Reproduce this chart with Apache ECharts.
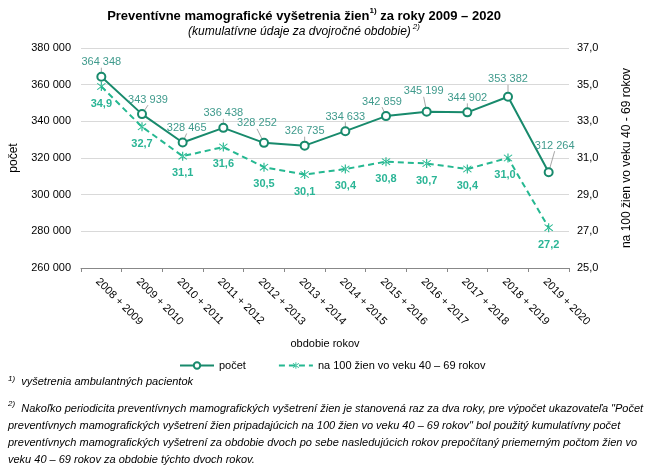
<!DOCTYPE html>
<html><head><meta charset="utf-8">
<script src="https://cdn.jsdelivr.net/npm/echarts@6/dist/echarts.min.js"></script>
<style>html,body{margin:0;padding:0;background:#fff}#c{width:650px;height:470px}</style>
</head><body><div id="c"></div>
<script>
const categories = ['2008 + 2009','2009 + 2010','2010 + 2011','2011 + 2012','2012 + 2013','2013 + 2014','2014 + 2015','2015 + 2016','2016 + 2017','2017 + 2018','2018 + 2019','2019 + 2020'];
const countValues = [364348, 343939, 328465, 336438, 328252, 326735, 334633, 342859, 345199, 344902, 353382, 312264];
const rateValues = [34.9, 32.7, 31.1, 31.6, 30.5, 30.1, 30.4, 30.8, 30.7, 30.4, 31.0, 27.2];
const leftTicks = [260000, 280000, 300000, 320000, 340000, 360000, 380000];
const rightTicks = [25, 27, 29, 31, 33, 35, 37];

// label layout tweaks (pixels), separate from data
const countLabelShift = [[0,0],[6,0],[4,0],[0,0],[-7,-5],[0,0],[0,0],[-4,0],[-3,-6],[0,0],[0,-3],[6,-12]];
const rateLabelShift = [[0,0],[0,0],[0,0],[0,0],[0,0],[0,0],[0,0],[0,0],[0,0],[0,0],[-3,0],[0,0]];

const FONT = 'Liberation Sans, Arial, sans-serif';
const cDark = '#188a6c';
const cLight = '#25b891';
const asterisk = 'path://M9,0h2v20h-2z M2.2,3.6l1.4-1.4l14.2,14.2l-1.4,1.4z M17.8,3.6l-1.4-1.4l-14.2,14.2l1.4,1.4z';

const fmtThousands = v => String(v).replace(/\B(?=(\d{3})+(?!\d))/g, ' ');
const fmtDec = v => v.toFixed(1).replace('.', ',');

const chart = echarts.init(document.getElementById('c'));
chart.setOption({
  animation: false,
  textStyle: {fontFamily: FONT},
  title: {
    left: 299, top: 2, textAlign: 'center',
    text: '{b|Preventívne mamografické vyšetrenia žien}{s|1)}{b| za roky 2009 – 2020}',
    subtext: '{i|(kumulatívne údaje za dvojročné obdobie)}{s|2)}',
    itemGap: 0,
    textStyle: {rich: {
      b: {fontFamily: FONT, fontWeight: 'bold', fontSize: 13, color: '#000', verticalAlign: 'bottom', lineHeight: 16},
      s: {fontFamily: FONT, fontWeight: 'bold', fontSize: 8, color: '#000', verticalAlign: 'top', lineHeight: 16, padding: [0,0,6,0]}
    }},
    subtextStyle: {rich: {
      i: {fontFamily: FONT, fontStyle: 'italic', fontSize: 12, color: '#000', verticalAlign: 'bottom', lineHeight: 15},
      s: {fontFamily: FONT, fontStyle: 'italic', fontSize: 8, color: '#000', verticalAlign: 'top', lineHeight: 15, padding: [0,0,6,2]}
    }}
  },
  grid: {left: 80, right: 81, top: 48, bottom: 202},
  legend: {
    top: 355, left: 174, itemWidth: 34, itemHeight: 8, itemGap: 32,
    textStyle: {fontSize: 11, color: '#000', fontFamily: FONT},
    data: ['počet', 'na 100 žien vo veku 40 – 69 rokov']
  },
  xAxis: {
    type: 'category', data: categories,
    name: 'obdobie rokov', nameLocation: 'middle', nameGap: 70,
    nameTextStyle: {fontSize: 11, color: '#000'},
    axisLine: {lineStyle: {color: '#888', width: 1}},
    axisTick: {show: true, alignWithLabel: false, length: 4, lineStyle: {color: '#888'}},
    axisLabel: {rotate: -45, fontSize: 11, color: '#000', margin: 8, interval: 0, align: 'left', verticalAlign: 'top'}
  },
  yAxis: [{
    type: 'value', min: 260000, max: 380000, interval: 20000,
    name: 'počet', nameLocation: 'middle', nameGap: 61, nameRotate: 90, nameMoveOverlap: false,
    nameTextStyle: {fontSize: 12, color: '#000'},
    axisLine: {show: false}, axisTick: {show: false},
    splitLine: {lineStyle: {color: '#d9d9d9', width: 1}},
    axisLabel: {fontSize: 11, color: '#000', margin: 10, formatter: v => leftTicks.includes(v) ? fmtThousands(v) : ''}
  }, {
    type: 'value', min: 25, max: 37, interval: 2,
    name: 'na 100 žien vo veku 40 - 69 rokov', nameLocation: 'middle', nameGap: 52, nameRotate: 90,
    nameTextStyle: {fontSize: 12, color: '#000'},
    axisLine: {show: false}, axisTick: {show: false},
    splitLine: {show: false},
    axisLabel: {fontSize: 11, color: '#000', margin: 8, formatter: v => rightTicks.includes(v) ? fmtDec(v) : ''}
  }],
  series: [{
    name: 'počet', type: 'line', yAxisIndex: 0, data: countValues,
    symbol: 'emptyCircle', symbolSize: 8,
    lineStyle: {color: cDark, width: 2}, itemStyle: {color: cDark, borderWidth: 1},
    label: {show: true, position: 'top', distance: 4, fontSize: 11, color: '#3f9a8c', formatter: p => fmtThousands(p.value)},
    labelLine: {show: true, lineStyle: {color: '#a6a6a6', width: 1}},
    labelLayout: p => {
      const s = countLabelShift[p.dataIndex];
      return {dx: s[0], dy: s[1]};
    },
    z: 3
  }, {
    name: 'na 100 žien vo veku 40 – 69 rokov', type: 'line', yAxisIndex: 1, data: rateValues,
    symbol: asterisk, symbolSize: 9,
    lineStyle: {color: cLight, width: 2, type: [6, 4]}, itemStyle: {color: cLight},
    label: {show: true, position: 'bottom', distance: 7, fontSize: 11, fontWeight: 'bold', color: '#2bb596', formatter: p => fmtDec(p.value)},
    labelLayout: p => {
      const s = rateLabelShift[p.dataIndex];
      return {dx: s[0], dy: s[1]};
    },
    z: 2
  }],
  graphic: [{
    type: 'text', left: 8, top: 375,
    style: {text: '{s|1)}{t|  vyšetrenia ambulantných pacientok}', rich: {
      s: {fontSize: 8, fontStyle: 'italic', fontFamily: FONT, fill: '#000', verticalAlign: 'top', padding: [0,0,5,0]},
      t: {fontSize: 11, fontStyle: 'italic', fontFamily: FONT, fill: '#000'}
    }}
  }, {
    type: 'text', left: 8, top: 400,
    style: {
      text: '{s|2)}{t|  Nakoľko periodicita preventívnych mamografických vyšetrení žien je stanovená raz za dva roky, pre výpočet ukazovateľa "Počet}\n{t|preventívnych mamografických vyšetrení žien pripadajúcich na 100 žien vo veku 40 – 69 rokov" bol použitý kumulatívny počet}\n{t|preventívnych mamografických vyšetrení za obdobie dvoch po sebe nasledujúcich rokov prepočítaný priemerným počtom žien vo}\n{t|veku 40 – 69 rokov za obdobie týchto dvoch rokov.}',
      rich: {
        s: {fontSize: 8, fontStyle: 'italic', fontFamily: FONT, fill: '#000', verticalAlign: 'top', padding: [0,0,5,0], lineHeight: 17},
        t: {fontSize: 11, fontStyle: 'italic', fontFamily: FONT, fill: '#000', lineHeight: 17}
      }
    }
  }]
});
</script></body></html>
